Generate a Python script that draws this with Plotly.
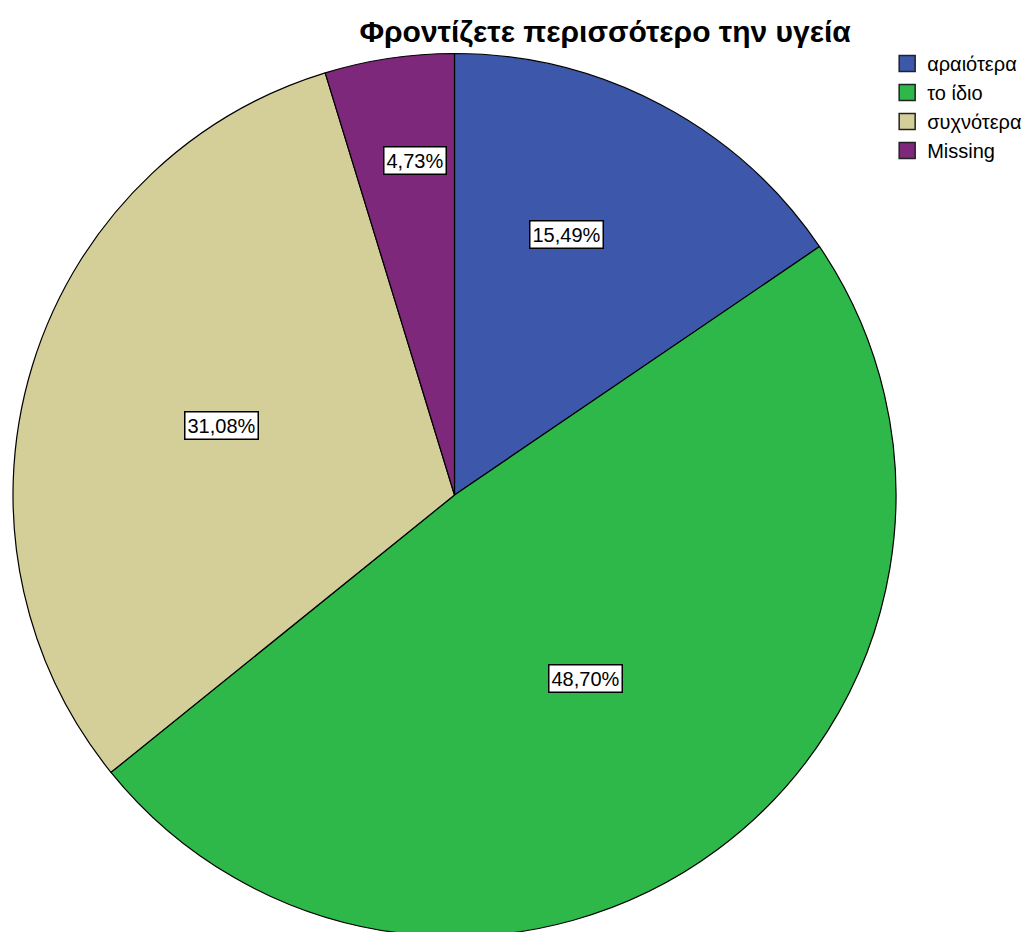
import math
import plotly.graph_objects as go

categories = ["αραιότερα", "το ίδιο", "συχνότερα", "Missing"]
percentages = [15.49, 48.70, 31.08, 4.73]
label_texts = ["15,49%", "48,70%", "31,08%", "4,73%"]
colors = ["#3D58AB", "#2EB84A", "#D4CE98", "#7E287C"]
title_text = "Φροντίζετε περισσότερο την υγεία"

# style: placement of the boxed labels (fraction of radius, angular nudge in degrees)
label_radius = [0.64, 0.51, 0.55, 0.76]
label_nudge = [-4.6, 1.0, -0.4, 1.8]

FONT = "Liberation Sans, Arial, sans-serif"

fig = go.Figure()
fig.add_trace(go.Pie(
    labels=categories,
    values=percentages,
    sort=False,
    direction="clockwise",
    rotation=0,
    marker=dict(colors=colors, line=dict(color="#000000", width=1.2)),
    textinfo="none",
    hoverinfo="label+percent",
    showlegend=False,
    domain=dict(x=[0, 1], y=[0, 1]),
))

# legend entries with larger square swatches
for cat, col in zip(categories, colors):
    fig.add_trace(go.Scatter(
        x=[None], y=[None], mode="markers", name=cat,
        marker=dict(symbol="square", size=16, color=col,
                    line=dict(color="#222222", width=1.5)),
        showlegend=True, hoverinfo="skip",
    ))

annotations = []
total = sum(percentages)
cum = 0.0
for v, txt, fr, nd in zip(percentages, label_texts, label_radius, label_nudge):
    mid = (cum + v / 2) / total * 2 * math.pi + math.radians(nd)
    cum += v
    annotations.append(dict(
        x=0.5 + fr * 0.5 * math.sin(mid),
        y=0.5 + fr * 0.5 * math.cos(mid),
        xref="paper", yref="paper",
        xanchor="center", yanchor="middle",
        text=txt, showarrow=False,
        font=dict(family=FONT, size=20, color="#000000"),
        bgcolor="#FFFFFF", bordercolor="#000000", borderwidth=1.5, borderpad=2,
    ))

fig.update_layout(
    width=1029, height=940,
    margin=dict(l=13, r=130, t=52, b=2),
    paper_bgcolor="#FFFFFF", plot_bgcolor="#FFFFFF",
    xaxis=dict(visible=False), yaxis=dict(visible=False),
    title=dict(text="<b>" + title_text + "</b>", x=0.588, xanchor="center",
               xref="container", yref="container",
               y=1 - 31 / 940, yanchor="middle",
               font=dict(family=FONT, size=30, color="#000000")),
    legend=dict(x=0.99, y=1.009, xanchor="left", yanchor="top",
                font=dict(family=FONT, size=20, color="#000000"),
                itemsizing="trace", tracegroupgap=0, bgcolor="rgba(0,0,0,0)"),
    annotations=annotations,
)

fig.write_html(
    "out.html",
    config={"displayModeBar": False},
    post_script="document.documentElement.style.overflow='hidden';"
                "document.body.style.overflow='hidden';"
                "document.body.style.margin='0';",
)
